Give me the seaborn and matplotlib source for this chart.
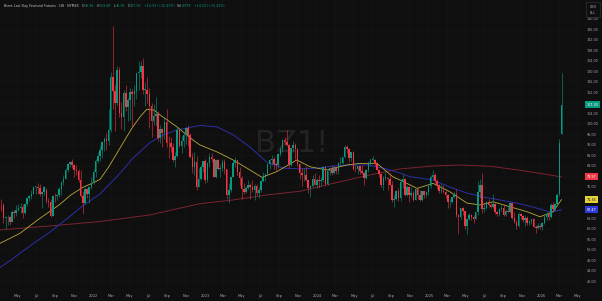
import matplotlib
matplotlib.use("Agg")
import matplotlib.pyplot as plt
import matplotlib.transforms as mtransforms
import matplotlib.patches as mpatches
import numpy as np
import pandas as pd
import seaborn as sns

# ---------------- data (weekly candles, BZ1!) ----------------
first_week = "2021-03-01"

opens = [
    # 2021
    66.1, 69.4, 69.2, 64.5, 64.6, 64.9, 63.0, 66.8, 66.1, 67.3, 68.3, 68.7, 66.4, 69.6, 71.9, 72.7, 73.5, 76.2, 76.2, 75.6, 73.6, 74.1,
    75.1, 70.7, 70.6, 65.2, 72.7, 72.6, 72.9, 75.3, 78.1, 79.3, 82.4, 84.9, 85.5, 84.4, 82.7, 82.2, 78.9, 72.7, 69.9, 75.2, 73.5, 76.1,
    # 2022
    77.8, 81.8, 86.1, 87.9, 90.0, 93.3, 94.4, 93.5, 97.9, 118.1, 112.7, 107.9, 120.7, 104.4, 102.8, 111.7, 106.7, 109.3, 112.4, 111.6,
    112.6, 119.4, 119.7, 122.0, 113.1, 113.1, 111.6, 107.0, 101.2, 103.2, 104.0, 94.9, 98.2, 96.7, 101.0, 93.0, 92.8, 91.4, 86.2, 88.0,
    97.9, 91.6, 93.5, 95.8, 98.6, 96.0, 87.6, 83.6, 85.6, 76.1, 79.0, 83.9,
    # 2023
    85.9, 78.6, 85.3, 87.6, 86.7, 79.9, 86.4, 83.0, 83.2, 85.8, 82.8, 73.0, 75.0, 79.8, 85.1, 86.3, 81.7, 79.5, 75.3, 74.2,
    75.6, 77.0, 76.1, 74.8, 76.6, 73.9, 74.9, 78.5, 79.9, 81.1, 85.0, 86.2, 86.8, 84.8, 84.5, 88.6, 90.7, 93.9, 93.3, 92.2,
    84.6, 90.9, 92.2, 90.5, 84.9, 81.4, 80.6, 80.6, 78.9, 75.8, 76.6, 79.1,
    # 2024
    77.0, 78.8, 78.3, 78.6, 83.6, 77.3, 82.2, 83.5, 81.6, 83.6, 82.1, 85.3, 85.4, 87.5, 91.2, 90.5, 87.3, 89.5, 83.0, 82.8,
    84.0, 82.1, 81.6, 79.6, 82.6, 85.2, 86.4, 86.5, 85.0, 82.6, 81.1, 76.8, 79.7, 79.7, 79.0, 76.9, 71.1, 71.6, 74.5, 72.0,
    78.1, 79.0, 73.1, 76.1, 73.1, 73.9, 71.0, 75.2, 72.9, 71.1, 74.5, 72.9, 74.2,
    # 2025
    76.5, 79.8, 80.8, 78.5, 76.8, 74.7, 74.7, 74.4, 73.2, 70.4, 70.6, 72.2, 73.6, 65.6, 64.8, 68.0, 66.9, 61.3, 63.9, 65.4,
    64.8, 63.9, 66.5, 74.2, 77.0, 67.8, 68.3, 70.4, 69.3, 68.4, 69.7, 66.6, 65.9, 67.7, 68.1, 65.5, 67.0, 66.7, 70.1, 64.5,
    62.7, 61.3, 65.9, 65.1, 63.6, 64.4, 62.6, 63.2, 63.8, 61.1, 60.5, 61.3,
    # 2026
    60.9, 62.6, 64.9, 65.9, 64.6, 69.3, 67.9, 69.8, 73.6, 96.36,
]
highs = [
    69.9, 71.4, 70.0, 65.2, 65.5, 65.2, 67.5, 67.5, 69.1, 69.8, 69.9, 69.6, 69.8, 72.0, 73.1, 74.9, 76.4, 76.6, 77.8, 77.2, 74.5, 76.4,
    75.9, 71.9, 71.4, 72.9, 73.8, 73.2, 76.1, 78.4, 80.8, 83.5, 85.1, 86.1, 86.7, 85.0, 84.6, 82.8, 82.6, 74.6, 76.1, 75.7, 76.2, 79.8,
    82.9, 86.7, 89.5, 91.7, 93.7, 95.0, 96.8, 105.8, 119.8, 137.2, 114.8, 122.0, 121.6, 108.5, 113.0, 114.8, 110.0, 113.9, 113.5, 114.9,
    119.6, 124.0, 124.0, 125.2, 116.0, 118.0, 113.9, 108.0, 107.8, 110.3, 105.0, 99.8, 98.4, 102.9, 105.6, 95.7, 95.2, 93.0, 89.4, 98.8,
    98.0, 95.4, 96.7, 98.9, 99.6, 96.6, 89.0, 89.4, 88.0, 83.5, 84.3, 86.0,
    86.6, 85.6, 89.1, 89.1, 87.0, 86.9, 86.8, 84.8, 86.7, 86.8, 83.1, 77.6, 80.0, 86.4, 87.5, 86.5, 83.6, 80.4, 77.6, 76.6,
    78.6, 77.6, 78.7, 77.3, 77.3, 76.0, 78.8, 81.7, 81.2, 85.1, 86.6, 88.1, 87.5, 85.7, 89.1, 91.2, 94.4, 95.1, 97.7, 92.3,
    91.0, 93.8, 92.8, 91.0, 85.1, 83.5, 83.2, 84.0, 79.3, 77.0, 80.6, 81.6,
    79.4, 80.8, 79.8, 84.0, 84.0, 82.4, 83.6, 84.3, 84.2, 84.1, 85.7, 87.7, 87.6, 91.9, 92.2, 91.0, 89.6, 89.9, 84.4, 84.1,
    84.2, 84.6, 81.7, 83.0, 86.0, 87.0, 87.9, 86.6, 85.6, 82.8, 81.6, 80.2, 82.0, 80.0, 81.4, 78.4, 72.9, 74.9, 75.8, 79.3,
    81.2, 79.5, 76.8, 76.6, 76.2, 74.6, 75.5, 75.6, 74.8, 74.7, 74.7, 74.6, 76.8,
    80.8, 82.6, 81.4, 79.2, 77.3, 77.4, 76.9, 74.9, 73.6, 71.4, 72.3, 74.1, 75.3, 65.9, 68.3, 68.6, 67.0, 64.0, 66.3, 66.0,
    65.6, 66.8, 78.5, 79.0, 81.4, 70.0, 70.8, 71.5, 70.0, 73.6, 69.9, 67.0, 68.0, 69.3, 69.8, 67.8, 68.6, 70.6, 70.2, 66.6,
    63.5, 66.8, 66.2, 65.4, 65.6, 65.0, 63.7, 64.0, 64.2, 61.7, 62.6, 62.0,
    63.0, 65.4, 66.7, 66.4, 70.0, 70.4, 70.2, 73.8, 94.2, 119.48,
]
lows = [
    62.5, 67.1, 62.4, 60.3, 61.8, 61.5, 62.8, 64.5, 65.0, 66.9, 66.2, 64.5, 66.0, 69.0, 70.9, 71.7, 73.3, 73.6, 73.5, 72.7, 68.0, 72.9,
    69.9, 68.6, 64.6, 65.1, 70.5, 71.1, 72.5, 73.0, 77.0, 79.0, 81.9, 83.8, 83.2, 80.1, 80.6, 77.9, 72.3, 65.7, 69.8, 72.0, 70.1, 75.2,
    77.3, 80.1, 85.3, 85.9, 87.0, 89.9, 90.1, 92.0, 97.0, 105.6, 97.4, 107.2, 102.9, 98.2, 97.6, 104.9, 101.4, 101.6, 99.0, 107.1,
    109.7, 113.0, 117.5, 111.6, 107.0, 108.0, 98.5, 95.3, 99.6, 99.5, 93.6, 92.8, 91.5, 94.5, 91.5, 87.0, 89.6, 85.6, 83.7, 87.5,
    91.2, 89.1, 91.3, 92.4, 91.8, 87.1, 81.3, 80.6, 75.1, 76.0, 78.7, 81.8,
    77.7, 78.0, 83.9, 85.8, 79.8, 79.5, 82.7, 79.9, 82.3, 81.2, 71.4, 70.1, 74.2, 79.8, 83.6, 80.7, 76.9, 71.4, 73.4, 73.8,
    75.5, 71.5, 74.1, 71.3, 72.9, 71.9, 74.3, 77.9, 78.4, 80.9, 83.0, 84.4, 83.0, 82.3, 83.5, 88.0, 89.6, 91.9, 91.6, 83.5,
    84.0, 89.3, 86.7, 84.2, 79.3, 76.6, 78.3, 78.4, 73.8, 72.3, 76.3, 76.8,
    75.6, 75.8, 76.5, 77.9, 76.9, 77.0, 80.7, 80.7, 80.9, 81.2, 81.1, 84.6, 84.7, 87.1, 88.9, 85.7, 86.1, 82.4, 81.7, 81.1,
    80.9, 81.2, 76.8, 79.3, 81.8, 84.3, 85.9, 84.1, 82.4, 79.9, 76.3, 75.1, 78.9, 75.1, 76.8, 70.5, 68.7, 71.1, 70.9, 70.7,
    75.7, 72.8, 72.8, 70.5, 72.4, 70.8, 71.0, 71.7, 70.9, 70.9, 72.0, 72.2, 73.0,
    75.8, 79.3, 77.5, 75.3, 74.0, 74.0, 73.9, 72.0, 68.3, 68.6, 70.0, 71.9, 64.9, 58.4, 64.0, 65.3, 60.2, 58.4, 63.5, 63.5,
    62.6, 63.8, 65.5, 71.8, 66.3, 66.6, 67.9, 68.5, 68.0, 68.2, 65.8, 65.0, 65.1, 66.9, 65.1, 65.0, 66.5, 66.4, 64.0, 62.5,
    60.1, 60.9, 63.8, 62.7, 61.4, 61.8, 61.5, 61.9, 60.8, 58.7, 60.3, 60.0,
    59.8, 62.2, 63.6, 63.4, 64.2, 66.7, 66.9, 69.0, 72.6, 96.36,
]
closes = [
    69.4, 69.2, 64.5, 64.6, 64.9, 63.0, 66.8, 66.1, 67.3, 68.3, 68.7, 66.4, 69.6, 71.9, 72.7, 73.5, 76.2, 76.2, 75.6, 73.6, 74.1, 76.3,
    70.7, 70.6, 65.2, 72.7, 72.6, 72.9, 75.3, 78.1, 79.3, 82.4, 84.9, 85.5, 84.4, 82.7, 82.2, 78.9, 72.7, 69.9, 75.2, 73.5, 76.1, 77.8,
    81.8, 86.1, 87.9, 90.0, 93.3, 94.4, 93.5, 97.9, 118.1, 112.7, 107.9, 120.7, 104.4, 102.8, 111.7, 106.7, 109.3, 112.4, 111.6, 112.6,
    119.4, 119.7, 122.0, 113.1, 113.1, 111.6, 107.0, 101.2, 103.2, 104.0, 94.9, 98.2, 96.7, 101.0, 93.0, 92.8, 91.4, 86.2, 88.0, 97.9,
    91.6, 93.5, 95.8, 98.6, 96.0, 87.6, 83.6, 85.6, 76.1, 79.0, 83.9, 85.9,
    78.6, 85.3, 87.6, 86.7, 79.9, 86.4, 83.0, 83.2, 85.8, 82.8, 73.0, 75.0, 79.8, 85.1, 86.3, 81.7, 79.5, 75.3, 74.2, 75.6,
    77.0, 76.1, 74.8, 76.6, 73.9, 74.9, 78.5, 79.9, 81.1, 85.0, 86.2, 86.8, 84.8, 84.5, 88.6, 90.7, 93.9, 93.3, 92.2, 84.6,
    90.9, 92.2, 90.5, 84.9, 81.4, 80.6, 80.6, 78.9, 75.8, 76.6, 79.1, 77.0,
    78.8, 78.3, 78.6, 83.6, 77.3, 82.2, 83.5, 81.6, 83.6, 82.1, 85.3, 85.4, 87.5, 91.2, 90.5, 87.3, 89.5, 83.0, 82.8, 84.0,
    82.1, 81.6, 79.6, 82.6, 85.2, 86.4, 86.5, 85.0, 82.6, 81.1, 76.8, 79.7, 79.7, 79.0, 76.9, 71.1, 71.6, 74.5, 72.0, 78.1,
    79.0, 73.1, 76.1, 73.1, 73.9, 71.0, 75.2, 72.9, 71.1, 74.5, 72.9, 74.2, 76.5,
    79.8, 80.8, 78.5, 76.8, 74.7, 74.7, 74.4, 73.2, 70.4, 70.6, 72.2, 73.6, 65.6, 64.8, 68.0, 66.9, 61.3, 63.9, 65.4, 64.8,
    63.9, 66.5, 74.2, 77.0, 67.8, 68.3, 70.4, 69.3, 68.4, 69.7, 66.6, 65.9, 67.7, 68.1, 65.5, 67.0, 66.7, 70.1, 64.5, 62.7,
    61.3, 65.9, 65.1, 63.6, 64.4, 62.6, 63.2, 63.8, 61.1, 60.5, 61.3, 60.9,
    62.6, 64.9, 65.9, 64.6, 69.3, 67.9, 69.8, 72.9, 92.97, 107.30,
]

# moving-average lines
ma_fast_dates = ["2021-03-04", "2021-05-08", "2021-07-12", "2021-09-15", "2021-10-20", "2021-11-29", "2021-12-27",
                 "2022-01-24", "2022-02-20", "2022-03-20", "2022-04-15", "2022-05-11", "2022-06-05", "2022-06-26",
                 "2022-07-20", "2022-08-08", "2022-10-02", "2022-11-23", "2022-12-16",
                 "2023-02-09", "2023-04-03", "2023-05-28", "2023-07-06", "2023-08-24", "2023-10-28", "2023-12-10",
                 "2024-02-03", "2024-04-08", "2024-05-21", "2024-07-15", "2024-09-05", "2024-09-28", "2024-11-23",
                 "2025-01-14", "2025-03-10", "2025-05-05", "2025-06-16", "2025-07-29", "2025-09-22", "2025-11-17",
                 "2025-12-29", "2026-02-09", "2026-03-09"]
ma_fast_vals = [54.7, 58.5, 64.2, 69.5, 73.0, 76.0, 77.4,
                79.0, 83.5, 88.9, 94.0, 99.0, 103.0, 105.7,
                105.3, 103.5, 99.0, 94.0, 92.1,
                89.5, 86.4, 82.6, 79.8, 82.0, 86.4, 83.8,
                82.6, 84.5, 85.1, 85.1, 80.0, 78.8, 75.6,
                77.5, 74.3, 70.0, 69.3, 70.5, 68.6, 66.7,
                64.8, 66.7, 71.36]

ma_mid_dates = ["2021-03-04", "2021-04-10", "2021-06-19", "2021-08-14", "2021-10-08", "2021-11-29", "2022-01-24",
                "2022-03-20", "2022-05-11", "2022-07-06", "2022-08-20", "2022-10-02", "2022-12-16", "2023-02-09",
                "2023-04-03", "2023-05-28", "2023-07-22", "2023-09-13", "2023-11-07", "2024-01-02", "2024-02-23",
                "2024-04-18", "2024-06-13", "2024-08-04", "2024-09-28", "2024-10-31", "2025-01-14", "2025-03-10",
                "2025-05-05", "2025-06-26", "2025-08-20", "2025-10-15", "2025-12-06", "2026-01-31", "2026-03-09"]
ma_mid_vals = [45.5, 48.5, 54.5, 59.0, 64.0, 69.0, 73.5,
               80.0, 87.0, 93.0, 96.0, 97.8, 99.5, 99.0,
               96.0, 91.3, 85.6, 83.3, 83.0, 83.3, 84.1,
               84.5, 84.5, 83.3, 81.5, 80.0, 78.8, 76.1,
               73.8, 72.3, 71.2, 70.0, 68.5, 66.6, 67.47]

ma_slow_dates = ["2021-03-04", "2021-08-14", "2022-01-24", "2022-07-06", "2022-12-16", "2023-04-03", "2023-07-22",
                 "2023-11-07", "2024-02-23", "2024-06-13", "2024-09-28", "2025-01-14", "2025-04-12", "2025-07-19",
                 "2025-10-25", "2026-03-09"]
ma_slow_vals = [59.8, 61.3, 63.0, 65.5, 69.8, 71.2, 73.1,
                74.5, 77.5, 80.5, 83.0, 84.1, 84.5, 84.0,
                82.5, 79.97]

price_ticks = list(range(40, 144, 4))
badge_values = [107.30, 79.97, 71.36, 67.47]
badge_texts = ["107.30", "79.97", "71.36", "67.47"]
month_ticks = pd.date_range("2021-05-01", "2026-05-01", freq="2MS")

title_text = "Brent Last Day Financial Futures · 1W · NYMEX"
header_values = [("O", "96.36"), ("H", "119.48"), ("L", "96.36"), ("C", "107.30"), ("", "+14.33 (+15.41%)"),
                 ("Vol", "8.97K"), ("", "+14.33 (+15.41%)")]

# ---------------- styling ----------------
sns.set_theme(style="dark")
plt.rcParams["font.family"] = ["DejaVu Sans"]

BG = "#0f0f0f"
GRID = "#1a1a1a"
UP = "#089981"
DOWN = "#f23645"
TXT = "#a8a8a8"
C_FAST = "#b8a83a"
C_MID = "#2b2fa8"
C_SLOW = "#7a2430"

W, H = 602, 301
fig = plt.figure(figsize=(W / 100, H / 100), dpi=100, facecolor=BG)
ax = fig.add_axes([0, 12 / H, 583 / W, 289 / H])
ax.set_facecolor(BG)

dates = pd.date_range(first_week, periods=len(closes), freq="7D")
o = np.array(opens)
h = np.array(highs)
l = np.array(lows)
c = np.array(closes)
up = c >= o
cols = np.where(up, UP, DOWN)

# watermark
ax.text(0.5, 0.505, "BZ1!", transform=ax.transAxes, ha="center", va="center",
        fontsize=22, color="#242424", zorder=0)

# grid
for v in price_ticks:
    ax.axhline(v, color=GRID, lw=0.35, zorder=0.5)
for d in month_ticks:
    ax.axvline(d, color=GRID, lw=0.35, zorder=0.5)

# MA lines via seaborn
sns.lineplot(x=pd.to_datetime(ma_slow_dates), y=ma_slow_vals, ax=ax, color=C_SLOW, lw=0.7, zorder=1)
sns.lineplot(x=pd.to_datetime(ma_mid_dates), y=ma_mid_vals, ax=ax, color=C_MID, lw=0.7, zorder=1)
sns.lineplot(x=pd.to_datetime(ma_fast_dates), y=ma_fast_vals, ax=ax, color=C_FAST, lw=0.6, zorder=1)

# candles
ax.vlines(dates, l, h, colors=cols, lw=0.4, zorder=2)
body = np.maximum(np.abs(c - o), 0.2)
ax.bar(dates, body, bottom=np.minimum(o, c), width=5.0, color=cols, linewidth=0, zorder=3)

ax.set_xlim(pd.Timestamp("2021-03-04"), pd.Timestamp("2026-05-18"))
ax.set_ylim(37.34, 147.22)
ax.set_xticks([])
ax.set_yticks([])
ax.set_xlabel("")
ax.set_ylabel("")
for s in ax.spines.values():
    s.set_visible(False)

# price scale labels
trans_y = mtransforms.blended_transform_factory(ax.transAxes, ax.transData)
for v in price_ticks:
    if any(abs(v - b) < 2.2 for b in badge_values):
        continue
    ax.text(1.0058, v, f"{v:.2f}", transform=trans_y, ha="left", va="center",
            fontsize=2.4, color=TXT, clip_on=False)

badge_fc = [UP, DOWN, "#e6d23a", "#2d3ad6"]
badge_tc = ["#ffffff", "#ffffff", "#111111", "#ffffff"]
for v, t, fc, tc in zip(badge_values, badge_texts, badge_fc, badge_tc):
    ax.text(1.0058, v, t, transform=trans_y, ha="left", va="center", fontsize=2.4, color=tc,
            clip_on=False, bbox=dict(boxstyle="square,pad=0.45", fc=fc, ec="none"))

# time axis labels
trans_x = mtransforms.blended_transform_factory(ax.transData, ax.transAxes)
for d in month_ticks:
    lab = str(d.year) if d.month == 1 else d.strftime("%b")
    ax.text(d, -0.024, lab, transform=trans_x, ha="center", va="center",
            fontsize=2.6, color=TXT, clip_on=False)

# currency box
fig.patches.append(mpatches.Rectangle((586 / W, 1 - 17 / H), 14 / W, 15 / H, transform=fig.transFigure,
                                      fc=BG, ec="#3a3a3a", lw=0.4))
fig.text(593 / W, 1 - 6.5 / H, "USD", ha="center", va="center", fontsize=2.3, color=TXT)
fig.text(593 / W, 1 - 12.5 / H, "BLL", ha="center", va="center", fontsize=2.3, color=TXT)

# header
renderer = fig.canvas.get_renderer()
xpos = 4.0
ypos = 1 - 6 / H


def put(txt, color, gap=0.0):
    global xpos
    t = fig.text(xpos / W, ypos, txt, ha="left", va="center", fontsize=2.3, color=color)
    bb = t.get_window_extent(renderer=renderer)
    xpos += bb.width + gap


put(title_text, "#c8c8c8", 3.0)
for k, v in header_values:
    if k:
        put(k, "#c8c8c8", 0.3)
    put(v, UP, 2.5)

fig.savefig("out.png", dpi=100, facecolor=BG)
